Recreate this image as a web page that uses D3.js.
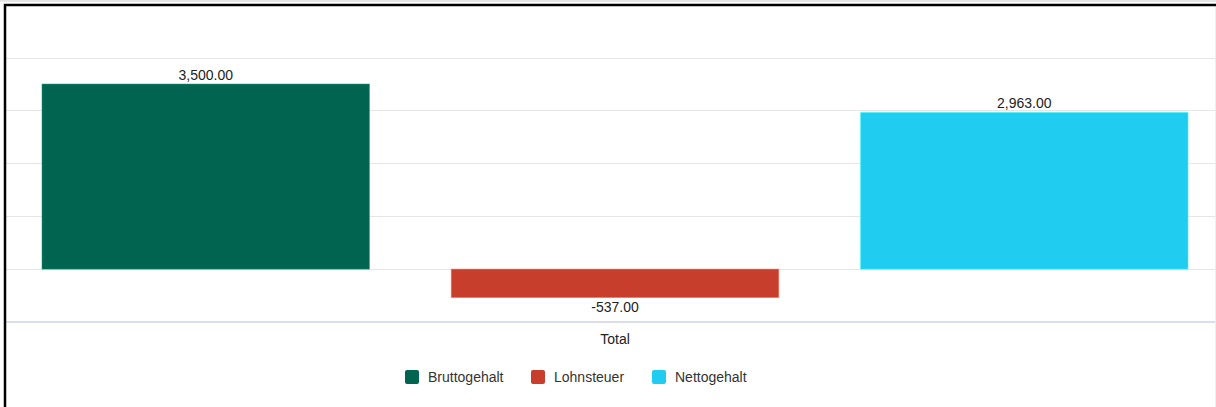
<!DOCTYPE html>
<html><head><meta charset="utf-8">
<script src="https://cdn.jsdelivr.net/npm/d3@7"></script>
<style>
html,body{margin:0;padding:0;background:#fff;}
svg{display:block;font-family:"Liberation Sans",Arial,sans-serif;}
</style></head>
<body>
<svg id="c" width="1216" height="407"></svg>
<script>
const categories = ["Total"];
const series = ["Bruttogehalt", "Lohnsteuer", "Nettogehalt"];
const values = [3500, -537, 2963];
const colors = ["#006450", "#c83e2d", "#20cdf0"];
const yTicks = [-1000, 0, 1000, 2000, 3000, 4000];

const svg = d3.select("#c");
// frame
svg.append("rect").attr("x",0).attr("y",0).attr("width",1216).attr("height",2).attr("fill","#e6e6e6");
svg.append("rect").attr("x",1215).attr("y",6).attr("width",1).attr("height",401).attr("fill","#eeeeee");

const y = d3.scaleLinear().domain([-1000, 4000]).range([322, 57.6]);
const x0 = d3.scaleBand().domain(categories).range([6, 1224]);
const x1 = d3.scaleBand().domain(series).range([36, 1182]).paddingInner(0.2).paddingOuter(0);

const g = svg.append("g");
// gridlines
g.selectAll("line.grid").data(yTicks.filter(t => t > -1000)).join("line")
  .attr("x1", 6).attr("x2", 1215)
  .attr("y1", d => Math.round(y(d)) + 0.5).attr("y2", d => Math.round(y(d)) + 0.5)
  .attr("stroke", "#e6e6e6").attr("stroke-width", 1);
// bottom axis line
g.append("line").attr("x1", 6).attr("x2", 1215)
  .attr("y1", Math.round(y(-1000)) ).attr("y2", Math.round(y(-1000)))
  .attr("stroke", "#d9ddec").attr("stroke-width", 2);

const grp = g.selectAll("g.cat").data(categories).join("g")
  .attr("transform", d => `translate(${x0(d)},0)`);

const data = series.map((s, i) => ({s, v: values[i], c: colors[i]}));
grp.selectAll("rect.bar").data(data).join("rect")
  .attr("x", d => x1(d.s)).attr("width", x1.bandwidth())
  .attr("y", d => y(Math.max(0, d.v)))
  .attr("height", d => Math.abs(y(d.v) - y(0)))
  .attr("fill", d => d.c)
  .attr("stroke", d => d3.color(d.c).brighter(1.2)).attr("stroke-opacity", 0.5).attr("stroke-width", 1);

const loc = d3.formatLocale({decimal: ".", thousands: ",", grouping: [3], currency: ["", ""], minus: "-"});
const fmt = loc.format(",.2f");
grp.selectAll("text.lbl").data(data).join("text")
  .attr("x", d => x1(d.s) + x1.bandwidth()/2)
  .attr("y", d => d.v >= 0 ? y(d.v) - 4.5 : y(d.v) + 14.5)
  .attr("text-anchor", "middle").attr("font-size", 14).attr("fill", "#222")
  .text(d => fmt(d.v));

// x axis label
grp.append("text").attr("x", x0.bandwidth()/2).attr("y", 344)
  .attr("text-anchor", "middle").attr("font-size", 14).attr("fill", "#222")
  .text(d => d);

// legend
const legX = [405, 531, 652];
const leg = svg.selectAll("g.leg").data(data).join("g")
  .attr("transform", (d, i) => `translate(${legX[i]},370)`);
leg.append("rect").attr("width", 14).attr("height", 14).attr("rx", 2).attr("fill", d => d.c);
leg.append("text").attr("x", 23).attr("y", 12).attr("font-size", 14).attr("fill", "#333")
  .text(d => d.s);

// black frame
svg.append("path").attr("d", "M5,407 L5,5 L1216,5").attr("fill","none").attr("stroke","#000").attr("stroke-width",2.5);
</script>
</body></html>
